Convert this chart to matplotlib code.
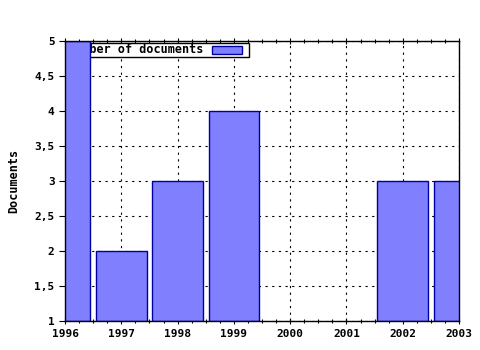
import matplotlib
matplotlib.use("Agg")
import matplotlib.pyplot as plt
from matplotlib.patches import Rectangle
from matplotlib.ticker import MultipleLocator, FuncFormatter

years = [1996, 1997, 1998, 1999, 2002, 2003]
documents = [5, 2, 3, 4, 3, 3]
series_label = "Number of documents"
y_label = "Documents"

plt.rcParams['font.family'] = ['DejaVu Sans Mono']
plt.rcParams['font.weight'] = 'bold'

fig = plt.figure(figsize=(4.8, 3.5), dpi=100)
ax = fig.add_axes([65/480, 1-321/350, (459-65)/480, (321-41)/350])

ax.bar(years, [d - 1 for d in documents], bottom=1, width=0.9,
       color='#8080ff', edgecolor='#0000a0', linewidth=1.0, zorder=3)

ax.set_xlim(1996, 2003)
ax.set_ylim(1, 5)
ax.xaxis.set_major_locator(MultipleLocator(1))
ax.xaxis.set_minor_locator(MultipleLocator(0.25))
ax.yaxis.set_major_locator(MultipleLocator(0.5))
ax.yaxis.set_major_formatter(FuncFormatter(lambda v, p: (f"{v:g}").replace('.', ',')))
ax.xaxis.set_major_formatter(FuncFormatter(lambda v, p: f"{int(round(v))}"))

ax.grid(True, which='major', color='black', linestyle=(0, (2, 4)), linewidth=0.8, zorder=0)
ax.set_axisbelow(True)

ax.tick_params(axis='both', which='major', labelsize=8, length=4, width=0.8, colors='black')
ax.tick_params(axis='x', which='both', top=True, direction='inout')
ax.tick_params(axis='x', which='minor', length=3, width=0.8)
ax.tick_params(axis='y', which='both', left=True, right=False, direction='out')
for s in ax.spines.values():
    s.set_linewidth(1.0)
    s.set_zorder(5)

ax.set_ylabel(y_label, fontsize=8.5, fontweight='bold', labelpad=10)

# legend (drawn beneath the bars, like the reference)
ax.add_patch(Rectangle((0.0025, 0.943), 0.4645, 0.05, transform=ax.transAxes,
                       facecolor='white', edgecolor='black', linewidth=1.0, zorder=2))
ax.text(0.350, 0.968, series_label, transform=ax.transAxes, fontsize=8.5,
        fontweight='bold', va='center', ha='right', zorder=2.2)
ax.add_patch(Rectangle((0.373, 0.954), 0.076, 0.028, transform=ax.transAxes,
                       facecolor='#8080ff', edgecolor='#0000a0', linewidth=1.0, zorder=2.5))

fig.savefig("out.png", dpi=100)
